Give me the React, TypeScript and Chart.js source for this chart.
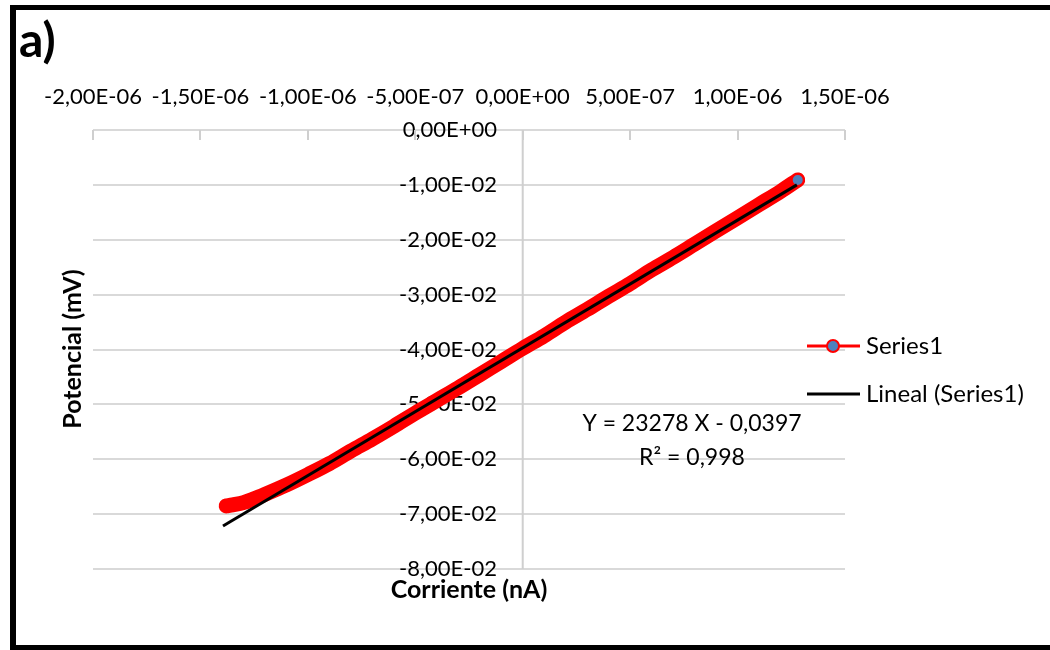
import { useEffect, useRef } from "react";
import { Chart, registerables } from "chart.js";

Chart.register(...registerables);

// Measured current (A) and potential (V) samples
const CURRENT = [
  -1.38e-6, -1.35e-6, -1.3e-6, -1.25e-6, -1.2e-6, -1.1e-6, -1.0e-6, -0.9e-6,
  -0.8e-6, -0.7e-6, -0.6e-6, -0.5e-6, -0.4e-6, -0.3e-6, -0.2e-6, -0.1e-6, 0,
  0.1e-6, 0.2e-6, 0.3e-6, 0.4e-6, 0.5e-6, 0.6e-6, 0.7e-6, 0.8e-6, 0.9e-6,
  1.0e-6, 1.1e-6, 1.2e-6, 1.28e-6,
];
const POTENTIAL = [
  -0.0685, -0.0683, -0.0679, -0.0672, -0.0664, -0.0647, -0.0628, -0.0608,
  -0.0585, -0.0563, -0.054, -0.0516, -0.0493, -0.047, -0.0446, -0.0422,
  -0.0398, -0.0375, -0.035, -0.0327, -0.0303, -0.028, -0.0255, -0.0232,
  -0.0208, -0.0184, -0.016, -0.0136, -0.0112, -0.0091,
];

// Linear trendline as reported
const SLOPE = 23278;
const INTERCEPT = -0.0397;
const R_SQUARED = "0,998";
const TREND_X = [-1.395e-6, 1.276e-6];

const X_TICKS = [-2e-6, -1.5e-6, -1e-6, -5e-7, 0, 5e-7, 1e-6, 1.5e-6];
const Y_TICKS = [0, -0.01, -0.02, -0.03, -0.04, -0.05, -0.06, -0.07, -0.08];

const SERIES_LABEL = "Series1";
const TREND_LABEL = "Lineal (Series1)";
const X_TITLE = "Corriente (nA)";
const Y_TITLE = "Potencial (mV)";
const PANEL_TAG = "a)";

const FONT = "Lato, 'Open Sans', sans-serif";

// Spreadsheet-style scientific notation with a decimal comma: -1,50E-06
function sci(v: number): string {
  if (v === 0) return "0,00E+00";
  const a = Math.abs(v);
  let exp = Math.floor(Math.log10(a) + 1e-9);
  let mant = a / Math.pow(10, exp);
  if (Number(mant.toFixed(2)) >= 10) {
    exp += 1;
    mant = a / Math.pow(10, exp);
  }
  const sign = v < 0 ? "-" : "";
  const es = exp < 0 ? "-" : "+";
  const ed = String(Math.abs(exp)).padStart(2, "0");
  return `${sign}${mant.toFixed(2).replace(".", ",")}E${es}${ed}`;
}

const decor = {
  id: "decor",
  beforeDraw(chart: any) {
    const { ctx, width, height } = chart;
    ctx.save();
    ctx.fillStyle = "#ffffff";
    ctx.fillRect(0, 0, width, height);
    ctx.restore();
  },
  beforeDatasetsDraw(chart: any) {
    const { ctx, scales } = chart;
    const xs = scales.x;
    const ys = scales.y;
    const x0 = xs.getPixelForValue(0);
    const yTop = ys.getPixelForValue(0);
    const yBot = ys.getPixelForValue(-0.08);
    ctx.save();
    ctx.strokeStyle = "#cfcfcf";
    ctx.lineWidth = 2;
    ctx.beginPath();
    ctx.moveTo(x0, yTop);
    ctx.lineTo(x0, yBot);
    xs.ticks.forEach((t: any) => {
      const px = Math.round(xs.getPixelForValue(t.value));
      ctx.moveTo(px, yTop);
      ctx.lineTo(px, yTop + 10);
    });
    ctx.stroke();
    ctx.restore();
  },
  afterDraw(chart: any) {
    const { ctx, scales } = chart;
    const xs = scales.x;
    ctx.save();
    ctx.fillStyle = "#000000";

    // panel tag
    ctx.font = `bold 48px ${FONT}`;
    ctx.textAlign = "left";
    ctx.textBaseline = "alphabetic";
    ctx.fillText(PANEL_TAG, 19, 57);

    // axis titles
    ctx.font = `bold 25px ${FONT}`;
    ctx.textAlign = "center";
    ctx.textBaseline = "middle";
    ctx.fillText(X_TITLE, (xs.left + xs.right) / 2, 590);
    ctx.save();
    ctx.translate(73, 349);
    ctx.rotate(-Math.PI / 2);
    ctx.fillText(Y_TITLE, 0, 0);
    ctx.restore();

    // trendline equation
    ctx.font = `23px ${FONT}`;
    const icpt = Math.abs(INTERCEPT).toString().replace(".", ",");
    const sign = INTERCEPT < 0 ? "-" : "+";
    ctx.fillText(`Y = ${SLOPE} X ${sign} ${icpt}`, 692, 424);
    ctx.fillText(`R² = ${R_SQUARED}`, 692, 458);

    // legend
    ctx.lineWidth = 3;
    ctx.strokeStyle = "#ff0000";
    ctx.beginPath();
    ctx.moveTo(807, 346);
    ctx.lineTo(860, 346);
    ctx.stroke();
    ctx.beginPath();
    ctx.arc(833, 346, 6, 0, Math.PI * 2);
    ctx.fillStyle = "#4f81bd";
    ctx.fill();
    ctx.lineWidth = 2;
    ctx.stroke();
    ctx.lineWidth = 3;
    ctx.strokeStyle = "#000000";
    ctx.beginPath();
    ctx.moveTo(807, 394);
    ctx.lineTo(860, 394);
    ctx.stroke();
    ctx.fillStyle = "#000000";
    ctx.textAlign = "left";
    ctx.font = `24px ${FONT}`;
    ctx.fillText(SERIES_LABEL, 866, 346);
    ctx.fillText(TREND_LABEL, 866, 394);

    // frame
    ctx.fillRect(10, 5, 6, 645);
    ctx.fillRect(10, 5, 1040, 5);
    ctx.fillRect(10, 645, 1040, 5);
    ctx.restore();
  },
};

export default function App() {
  const ref = useRef<HTMLCanvasElement | null>(null);

  useEffect(() => {
    if (!ref.current) return;
    const last = CURRENT.length - 1;
    const chart = new Chart(ref.current, {
      type: "scatter",
      data: {
        datasets: [
          {
            label: TREND_LABEL,
            data: TREND_X.map((x) => ({ x, y: SLOPE * x + INTERCEPT })),
            showLine: true,
            borderColor: "#000000",
            borderWidth: 3,
            pointRadius: 0,
            order: 0,
          },
          {
            label: SERIES_LABEL,
            data: CURRENT.map((x, i) => ({ x, y: POTENTIAL[i] })),
            showLine: true,
            borderColor: "#ff0000",
            borderWidth: 15,
            borderCapStyle: "round",
            borderJoinStyle: "round",
            cubicInterpolationMode: "monotone",
            pointRadius: (c: any) => (c.dataIndex === last ? 6 : 0),
            pointBackgroundColor: "#4f81bd",
            pointBorderColor: "#ff0000",
            pointBorderWidth: 2,
            order: 1,
          },
        ],
      },
      options: {
        animation: false,
        responsive: false,
        devicePixelRatio: 1,
        events: [],
        layout: { padding: { top: 0, left: 93, right: 205, bottom: 81 } },
        plugins: { legend: { display: false }, tooltip: { enabled: false } },
        scales: {
          x: {
            type: "linear",
            position: "top",
            min: -2e-6,
            max: 1.5e-6,
            grid: { display: false, drawTicks: false },
            border: { display: false },
            ticks: {
              padding: 20,
              color: "#000000",
              font: { family: FONT, size: 22 },
              maxRotation: 0,
              autoSkip: false,
              callback: (v: any) => sci(Number(v)),
            },
            afterBuildTicks: (s: any) => {
              s.ticks = X_TICKS.map((value) => ({ value }));
            },
            afterFit: (s: any) => {
              s.height = 130;
            },
          },
          y: {
            type: "linear",
            // labels end a little left of the vertical axis line at x = 0
            position: { x: -1.2e-7 },
            min: -0.08,
            max: 0,
            grid: { color: "#d9d9d9", lineWidth: 2, drawTicks: false },
            border: { display: false },
            ticks: {
              padding: 0,
              color: "#000000",
              font: { family: FONT, size: 22 },
              autoSkip: false,
              callback: (v: any) => sci(Number(v)),
            },
            afterBuildTicks: (s: any) => {
              s.ticks = Y_TICKS.map((value) => ({ value }));
            },
            afterFit: (s: any) => {
              s.width = 0;
            },
          },
        },
      } as any,
      plugins: [decor],
    });
    return () => chart.destroy();
  }, []);

  return (
    <div style={{ position: "absolute", left: 0, top: 0, width: 1050, height: 650 }}>
      <canvas ref={ref} width={1050} height={650} style={{ display: "block" }} />
    </div>
  );
}
